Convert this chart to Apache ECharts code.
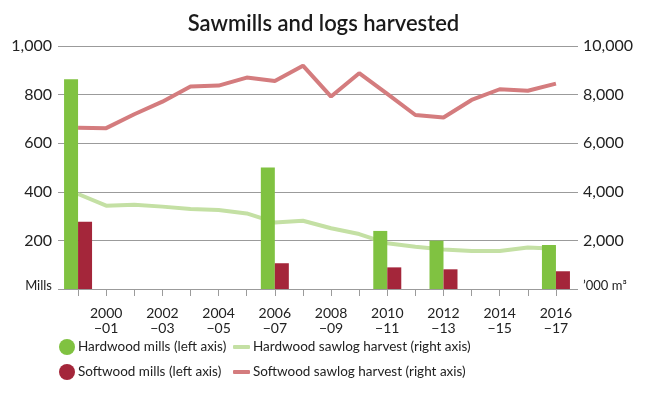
<!DOCTYPE html>
<html>
<head>
<meta charset="utf-8">
<script src="https://cdn.jsdelivr.net/npm/echarts@6/dist/echarts.min.js"></script>
<style>
  html, body { margin: 0; padding: 0; background: #fff; }
  #chart { width: 647px; height: 396px; }
</style>
</head>
<body>
<div id="chart"></div>
<script>
const years = ['1999\n−00', '2000\n−01', '2001\n−02', '2002\n−03', '2003\n−04', '2004\n−05',
  '2005\n−06', '2006\n−07', '2007\n−08', '2008\n−09', '2009\n−10', '2010\n−11',
  '2011\n−12', '2012\n−13', '2013\n−14', '2014\n−15', '2015\n−16', '2016\n−17']

// mills (left axis) - only surveyed years
const hardwoodMills = [863, null, null, null, null, null, null, 500, null, null, null, 239, null, 199, null, null, null, 181]
const softwoodMills = [277, null, null, null, null, null, null, 106, null, null, null, 89, null, 81, null, null, null, 73]

// sawlog harvest, '000 m3 (right axis)
const hardwoodHarvest = [3910, 3430, 3470, 3390, 3290, 3250, 3110, 2740, 2810, 2500, 2260, 1880, 1740, 1630, 1560, 1560, 1710, 1660]
const softwoodHarvest = [6640, 6620, 7190, 7710, 8330, 8370, 8700, 8560, 9190, 7920, 8880, 8030, 7160, 7060, 7780, 8220, 8160, 8450]

const leftTicks = { min: 0, max: 1000, interval: 200 }
const rightTicks = { min: 0, max: 10000, interval: 2000 }

const font = 'Lato, "Open Sans", sans-serif'
const gridColor = '#9b9b9b'

const chart = echarts.init(document.getElementById('chart'), null, { renderer: 'canvas' })

const legendText = { fontFamily: font, fontSize: 13.5, color: '#222', lineHeight: 18, padding: [0, 0, 0, -2] }

chart.setOption({
  animation: false,
  title: {
    text: 'Sawmills and logs harvested',
    left: 'center',
    top: 8,
    textStyle: { fontFamily: font, fontSize: 22, fontWeight: 600, color: '#1a1a1a' }
  },
  legend: [
    {
      data: ['Hardwood mills (left axis)', 'Softwood mills (left axis)'],
      orient: 'vertical',
      left: 59,
      top: 338,
      padding: 0,
      icon: 'circle',
      itemWidth: 16,
      itemHeight: 16,
      itemGap: 7,
      textStyle: legendText
    },
    {
      data: ['Hardwood sawlog harvest (right axis)', 'Softwood sawlog harvest (right axis)'],
      orient: 'vertical',
      left: 233,
      top: 338,
      padding: 0,
      icon: 'roundRect',
      itemWidth: 17,
      itemHeight: 4,
      itemGap: 7,
      textStyle: legendText
    }
  ],
  grid: [
    // grid lines span a bit wider than the category band
    { left: 58, right: 69, top: 46, bottom: 107 },
    { left: 64, right: 77, top: 46, bottom: 107 }
  ],
  xAxis: [
    { type: 'value', gridIndex: 0, show: false },
    {
      type: 'category',
      gridIndex: 1,
      data: years,
      axisLine: { show: false },
      axisTick: {
        show: true,
        alignWithLabel: true,
        interval: 0,
        length: 7,
        lineStyle: { color: gridColor }
      },
      axisLabel: {
        interval: (i) => i % 2 === 1,
        margin: 17,
        fontFamily: font,
        fontSize: 14,
        lineHeight: 15,
        color: '#222'
      }
    }
  ],
  yAxis: [
    {
      type: 'value',
      gridIndex: 0,
      ...leftTicks,
      axisLine: { show: false },
      axisTick: { show: false },
      splitLine: { lineStyle: { color: gridColor, width: 1 } },
      axisLabel: {
        margin: 6,
        fontFamily: font,
        fontSize: 16,
        color: '#222',
        formatter: (v) => v === 0 ? '{s|Mills}' : v.toLocaleString('en-US'),
        rich: { s: { fontFamily: font, fontSize: 13, color: '#222', padding: [0, 0, 6, 0] } }
      }
    },
    {
      type: 'value',
      gridIndex: 0,
      position: 'right',
      ...rightTicks,
      axisLine: { show: false },
      axisTick: { show: false },
      splitLine: { show: false },
      axisLabel: {
        margin: 5,
        fontFamily: font,
        fontSize: 16,
        color: '#222',
        formatter: (v) => v === 0 ? '{s|’000 m³}' : v.toLocaleString('en-US'),
        rich: { s: { fontFamily: font, fontSize: 13, color: '#222', padding: [0, 0, 6, 0] } }
      }
    },
    { type: 'value', gridIndex: 1, ...leftTicks, show: false },
    { type: 'value', gridIndex: 1, position: 'right', ...rightTicks, show: false }
  ],
  series: [
    {
      name: 'Hardwood mills (left axis)',
      type: 'bar',
      xAxisIndex: 1,
      yAxisIndex: 2,
      data: hardwoodMills,
      barWidth: 14,
      barGap: '0%',
      z: 3,
      itemStyle: { color: '#80c241' }
    },
    {
      name: 'Softwood mills (left axis)',
      type: 'bar',
      xAxisIndex: 1,
      yAxisIndex: 2,
      data: softwoodMills,
      barWidth: 14,
      barGap: '0%',
      z: 3,
      itemStyle: { color: '#a4263a' }
    },
    {
      name: 'Hardwood sawlog harvest (right axis)',
      type: 'line',
      xAxisIndex: 1,
      yAxisIndex: 3,
      data: hardwoodHarvest,
      showSymbol: false,
      z: 2,
      itemStyle: { color: '#c4e0a4' },
      lineStyle: { color: '#c4e0a4', width: 4 }
    },
    {
      name: 'Softwood sawlog harvest (right axis)',
      type: 'line',
      xAxisIndex: 1,
      yAxisIndex: 3,
      data: softwoodHarvest,
      showSymbol: false,
      z: 2,
      itemStyle: { color: '#d47c7e' },
      lineStyle: { color: '#d47c7e', width: 4 }
    }
  ]
})
</script>
</body>
</html>
